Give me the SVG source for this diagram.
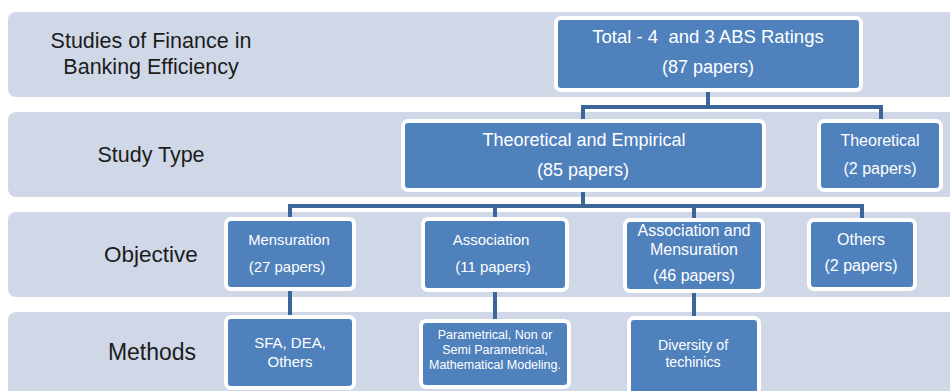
<svg xmlns="http://www.w3.org/2000/svg" width="950" height="391" viewBox="0 0 950 391">
<style>
.band{fill:#d0d8e8}
.box{fill:#4f81bd;stroke:#ffffff;stroke-width:4}
.lbl{font-family:"Liberation Sans",Arial,sans-serif;fill:#1c1c1c;text-anchor:middle}
.t{font-family:"Liberation Sans",Arial,sans-serif;fill:#ffffff;text-anchor:middle}
.conn{fill:none;stroke:#3c6697;stroke-width:4}
</style>
<rect width="950" height="391" fill="#ffffff"/>
<g id="bands">
<rect class="band" x="8" y="12" width="960" height="85" rx="8"/>
<rect class="band" x="8" y="112" width="960" height="85" rx="8"/>
<rect class="band" x="8" y="212" width="960" height="85" rx="8"/>
<rect class="band" x="8" y="312" width="960" height="100" rx="8"/>
</g>
<g id="labels">
<text class="lbl" x="151" y="48" font-size="21.5">Studies of Finance in</text>
<text class="lbl" x="151" y="74" font-size="21.5">Banking Efficiency</text>
<text class="lbl" x="151" y="162" font-size="21.5">Study Type</text>
<text class="lbl" x="151" y="262" font-size="22.5">Objective</text>
<text class="lbl" x="152" y="360" font-size="23">Methods</text>
</g>
<g id="connectors">
<path class="conn" d="M708 90V107M583 107H881M583 105V121M881 105V121"/>
<path class="conn" d="M583 190V206M290 206H862M290 204V219M495 204V219M694 204V220M862 204V220"/>
<path class="conn" d="M290 289V317M495 290V321M694 291V318"/>
</g>
<g id="total">
<rect class="box" x="556" y="18" width="305" height="72" rx="5"/>
<text class="t" x="708" y="43" font-size="18.5" style="white-space:pre">Total - 4  and 3 ABS Ratings</text>
<text class="t" x="708" y="73" font-size="18">(87 papers)</text>
</g>
<g id="theo-emp">
<rect class="box" x="403" y="121" width="361" height="69" rx="5"/>
<text class="t" x="584" y="146" font-size="18">Theoretical and Empirical</text>
<text class="t" x="583" y="176" font-size="18">(85 papers)</text>
</g>
<g id="theoretical">
<rect class="box" x="819" y="121" width="122" height="69" rx="5"/>
<text class="t" x="880" y="146" font-size="16">Theoretical</text>
<text class="t" x="880" y="174" font-size="16">(2 papers)</text>
</g>
<g id="mensuration">
<rect class="box" x="226" y="219" width="128" height="70" rx="5"/>
<text class="t" x="289" y="245" font-size="14.8">Mensuration</text>
<text class="t" x="287" y="272" font-size="15">(27 papers)</text>
</g>
<g id="association">
<rect class="box" x="423" y="219" width="144" height="71" rx="5"/>
<text class="t" x="491" y="245" font-size="15">Association</text>
<text class="t" x="493" y="272" font-size="15">(11 papers)</text>
</g>
<g id="assoc-mens">
<rect class="box" x="625" y="220" width="138" height="71" rx="5"/>
<text class="t" x="694" y="236" font-size="16">Association and</text>
<text class="t" x="694" y="255" font-size="16">Mensuration</text>
<text class="t" x="694" y="281" font-size="16">(46 papers)</text>
</g>
<g id="others">
<rect class="box" x="809" y="220" width="106" height="69" rx="5"/>
<text class="t" x="861" y="245" font-size="16">Others</text>
<text class="t" x="861" y="271" font-size="16">(2 papers)</text>
</g>
<g id="sfa">
<rect class="box" x="226" y="317" width="128" height="71" rx="5"/>
<text class="t" x="290" y="348" font-size="15">SFA, DEA,</text>
<text class="t" x="290" y="367" font-size="15">Others</text>
</g>
<g id="parametrical">
<rect class="box" x="421" y="321" width="148" height="66" rx="5"/>
<text class="t" x="495" y="339" font-size="12.5">Parametrical, Non or</text>
<text class="t" x="495" y="354" font-size="12.5">Semi Parametrical,</text>
<text class="t" x="495" y="369" font-size="12.5">Mathematical Modeling.</text>
</g>
<g id="diversity">
<rect class="box" x="629" y="318" width="130" height="80" rx="5"/>
<text class="t" x="693" y="350" font-size="14.2">Diversity of</text>
<text class="t" x="693" y="367" font-size="14.2">techinics</text>
</g>
</svg>
